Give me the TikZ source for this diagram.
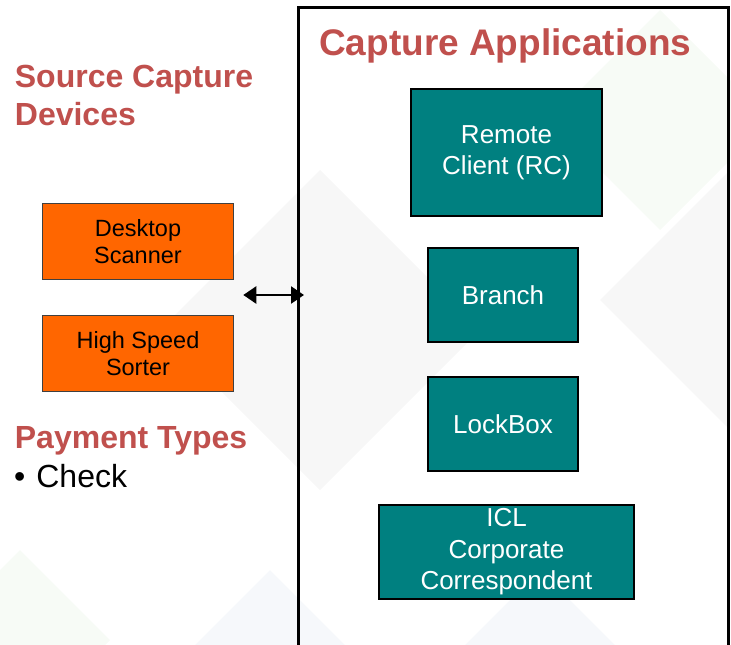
\documentclass[tikz,border=0pt]{standalone}
\usepackage{fontspec}
\setmainfont{Liberation Sans}
\usetikzlibrary{arrows.meta}
\definecolor{headred}{HTML}{C0504D}
\definecolor{devorange}{HTML}{FF6600}
\definecolor{appteal}{HTML}{008080}
\definecolor{bggray}{HTML}{F7F7F7}
\definecolor{bggreen}{HTML}{F7FBF6}
\definecolor{bgblue}{HTML}{F6F8FB}
\tikzset{
  devbox/.style={draw=black!75, line width=1.2pt, fill=devorange, minimum width=191pt, minimum height=76pt, align=center, inner sep=0pt, font=\fontsize{23.5}{27}\selectfont},
  appbox/.style={draw=black, line width=2pt, fill=appteal, text=white, align=center, inner sep=0pt, font=\fontsize{26}{31.5}\selectfont},
  heading/.style={text=headred, font=\fontsize{32}{38}\selectfont\bfseries, anchor=base west, align=left, inner sep=0pt}
}
\begin{document}
\begin{tikzpicture}[line join=miter, >={Triangle[length=13pt,width=17pt]}, x=1pt, y=-1pt]
\useasboundingbox (0,0) rectangle (731,645);
\clip (0,0) rectangle (731,645);
\foreach \cx/\cy/\r/\c in {320/330/160/bggray, 730/300/130/bggray, 20/640/90/bggreen, 270/720/150/bgblue, 540/720/150/bgblue, 660/120/110/bggreen}
  {\fill[\c] ({\cx-\r},\cy) -- (\cx,{\cy-\r}) -- ({\cx+\r},\cy) -- (\cx,{\cy+\r}) -- cycle;}
\node[draw, line width=3.5pt, minimum width=430pt, minimum height=700pt, anchor=north west, inner sep=0pt, outer sep=0pt] (capbox) at (298.7,7.7) {};
\node[heading, font=\fontsize{37}{44}\selectfont\bfseries] (apptitle) at (319,55) {Capture Applications};
\node[heading] (devtitle) at (14.7,125) {Source Capture\\Devices};
\node[heading] (paytitle) at (14.7,448) {Payment Types};
\node[anchor=base west, inner sep=0pt, font=\fontsize{32}{38}\selectfont] (check) at (14,487) {\textbullet\hspace{11pt}Check};
\node[devbox] (scanner) at (138,241.5) {Desktop\\Scanner};
\node[devbox] (sorter) at (138,353.5) {High Speed\\Sorter};
\foreach \n/\x/\y/\w/\h/\t in {remote/506.5/152.5/191/127/{Remote\\Client (RC)}, branch/503/295/150/94/Branch, lockbox/503/424/150/94/LockBox, icl/506.5/552/255/94/{ICL\\Corporate\\Correspondent}}
  {\node[appbox, minimum width=\w pt, minimum height=\h pt] (\n) at (\x,\y) {\t};}
\coordinate (link) at (243.3,295);
\draw[<->, line width=2.5pt] (link) -- ([xshift=5.3pt]link -| capbox.west);
\end{tikzpicture}
\end{document}
